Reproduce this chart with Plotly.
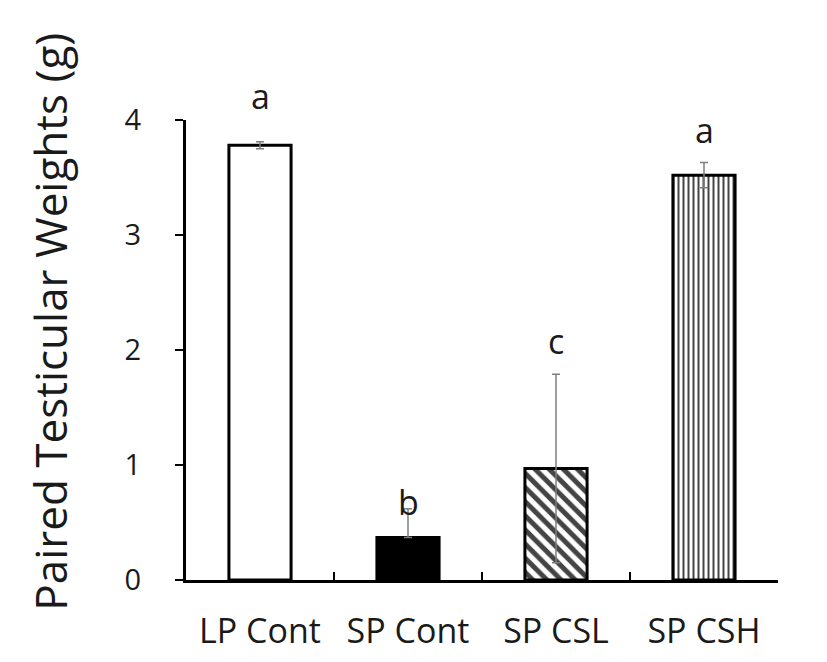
import plotly.graph_objects as go

categories = ["LP Cont", "SP Cont", "SP CSL", "SP CSH"]
means = [3.78, 0.37, 0.97, 3.52]
errors_plus = [0.03, 0.25, 0.82, 0.11]
errors_minus = [0.03, 0.0, 0.82, 0.11]
letters = ["a", "b", "c", "a"]
letter_y = [4.21, 0.68, 2.08, 3.91]
y_ticks = [0, 1, 2, 3, 4]
y_max = 4
y_title = "Paired Testicular Weights (g)"

fills = ["white", "black", "white", "white"]
shapes = ["", "", "\\", "|"]
pattern_sizes = [8, 8, 10, 5]
pattern_solidity = [0.3, 0.3, 0.5, 0.4]

FONT = "Open Sans"
TXT = "#1a1a1a"

fig = go.Figure()
fig.add_trace(go.Bar(
    x=categories,
    y=means,
    width=0.42,
    marker=dict(
        color=fills,
        line=dict(color="black", width=3),
        pattern=dict(shape=shapes, fgcolor="black", bgcolor="white",
                     fgopacity=1, size=pattern_sizes,
                     solidity=pattern_solidity, fillmode="overlay"),
    ),
    error_y=dict(type="data", symmetric=False, array=errors_plus,
                 arrayminus=errors_minus, visible=True,
                 color="#7f7f7f", thickness=1.5, width=4),
    cliponaxis=False,
))

for c, l, ly in zip(categories, letters, letter_y):
    fig.add_annotation(x=c, xref="x", y=ly / y_max, yref="paper", text=l,
                       showarrow=False,
                       font=dict(family=FONT, size=34, color=TXT),
                       yanchor="middle")

# y-axis title (placed as annotation so it can sit above plot centre)
fig.add_annotation(x=-0.23, xref="paper", y=0.561, yref="paper",
                   text=y_title, textangle=-90, showarrow=False,
                   xanchor="center", yanchor="middle",
                   font=dict(family=FONT, size=44, color=TXT))

fig.update_layout(
    width=827, height=662,
    margin=dict(l=178, r=57, t=112, b=90),
    paper_bgcolor="white", plot_bgcolor="white",
    showlegend=False,
    font=dict(family=FONT, color=TXT),
)
fig.update_xaxes(
    showline=True, linecolor="black", linewidth=3,
    ticks="inside", ticklen=8, tickwidth=2, tickcolor="black",
    tickson="boundaries",
    tickfont=dict(family=FONT, size=34, color=TXT),
    ticklabelstandoff=19,
    showgrid=False, zeroline=False, automargin=False,
)
fig.update_yaxes(
    range=[0, y_max], tickvals=y_ticks,
    showline=True, linecolor="black", linewidth=3,
    ticks="outside", ticklen=8, tickwidth=2, tickcolor="black",
    tickfont=dict(family=FONT, size=29, color=TXT),
    ticklabelstandoff=28,
    showgrid=False, zeroline=False, automargin=False,
)

fig.write_html("out.html")
